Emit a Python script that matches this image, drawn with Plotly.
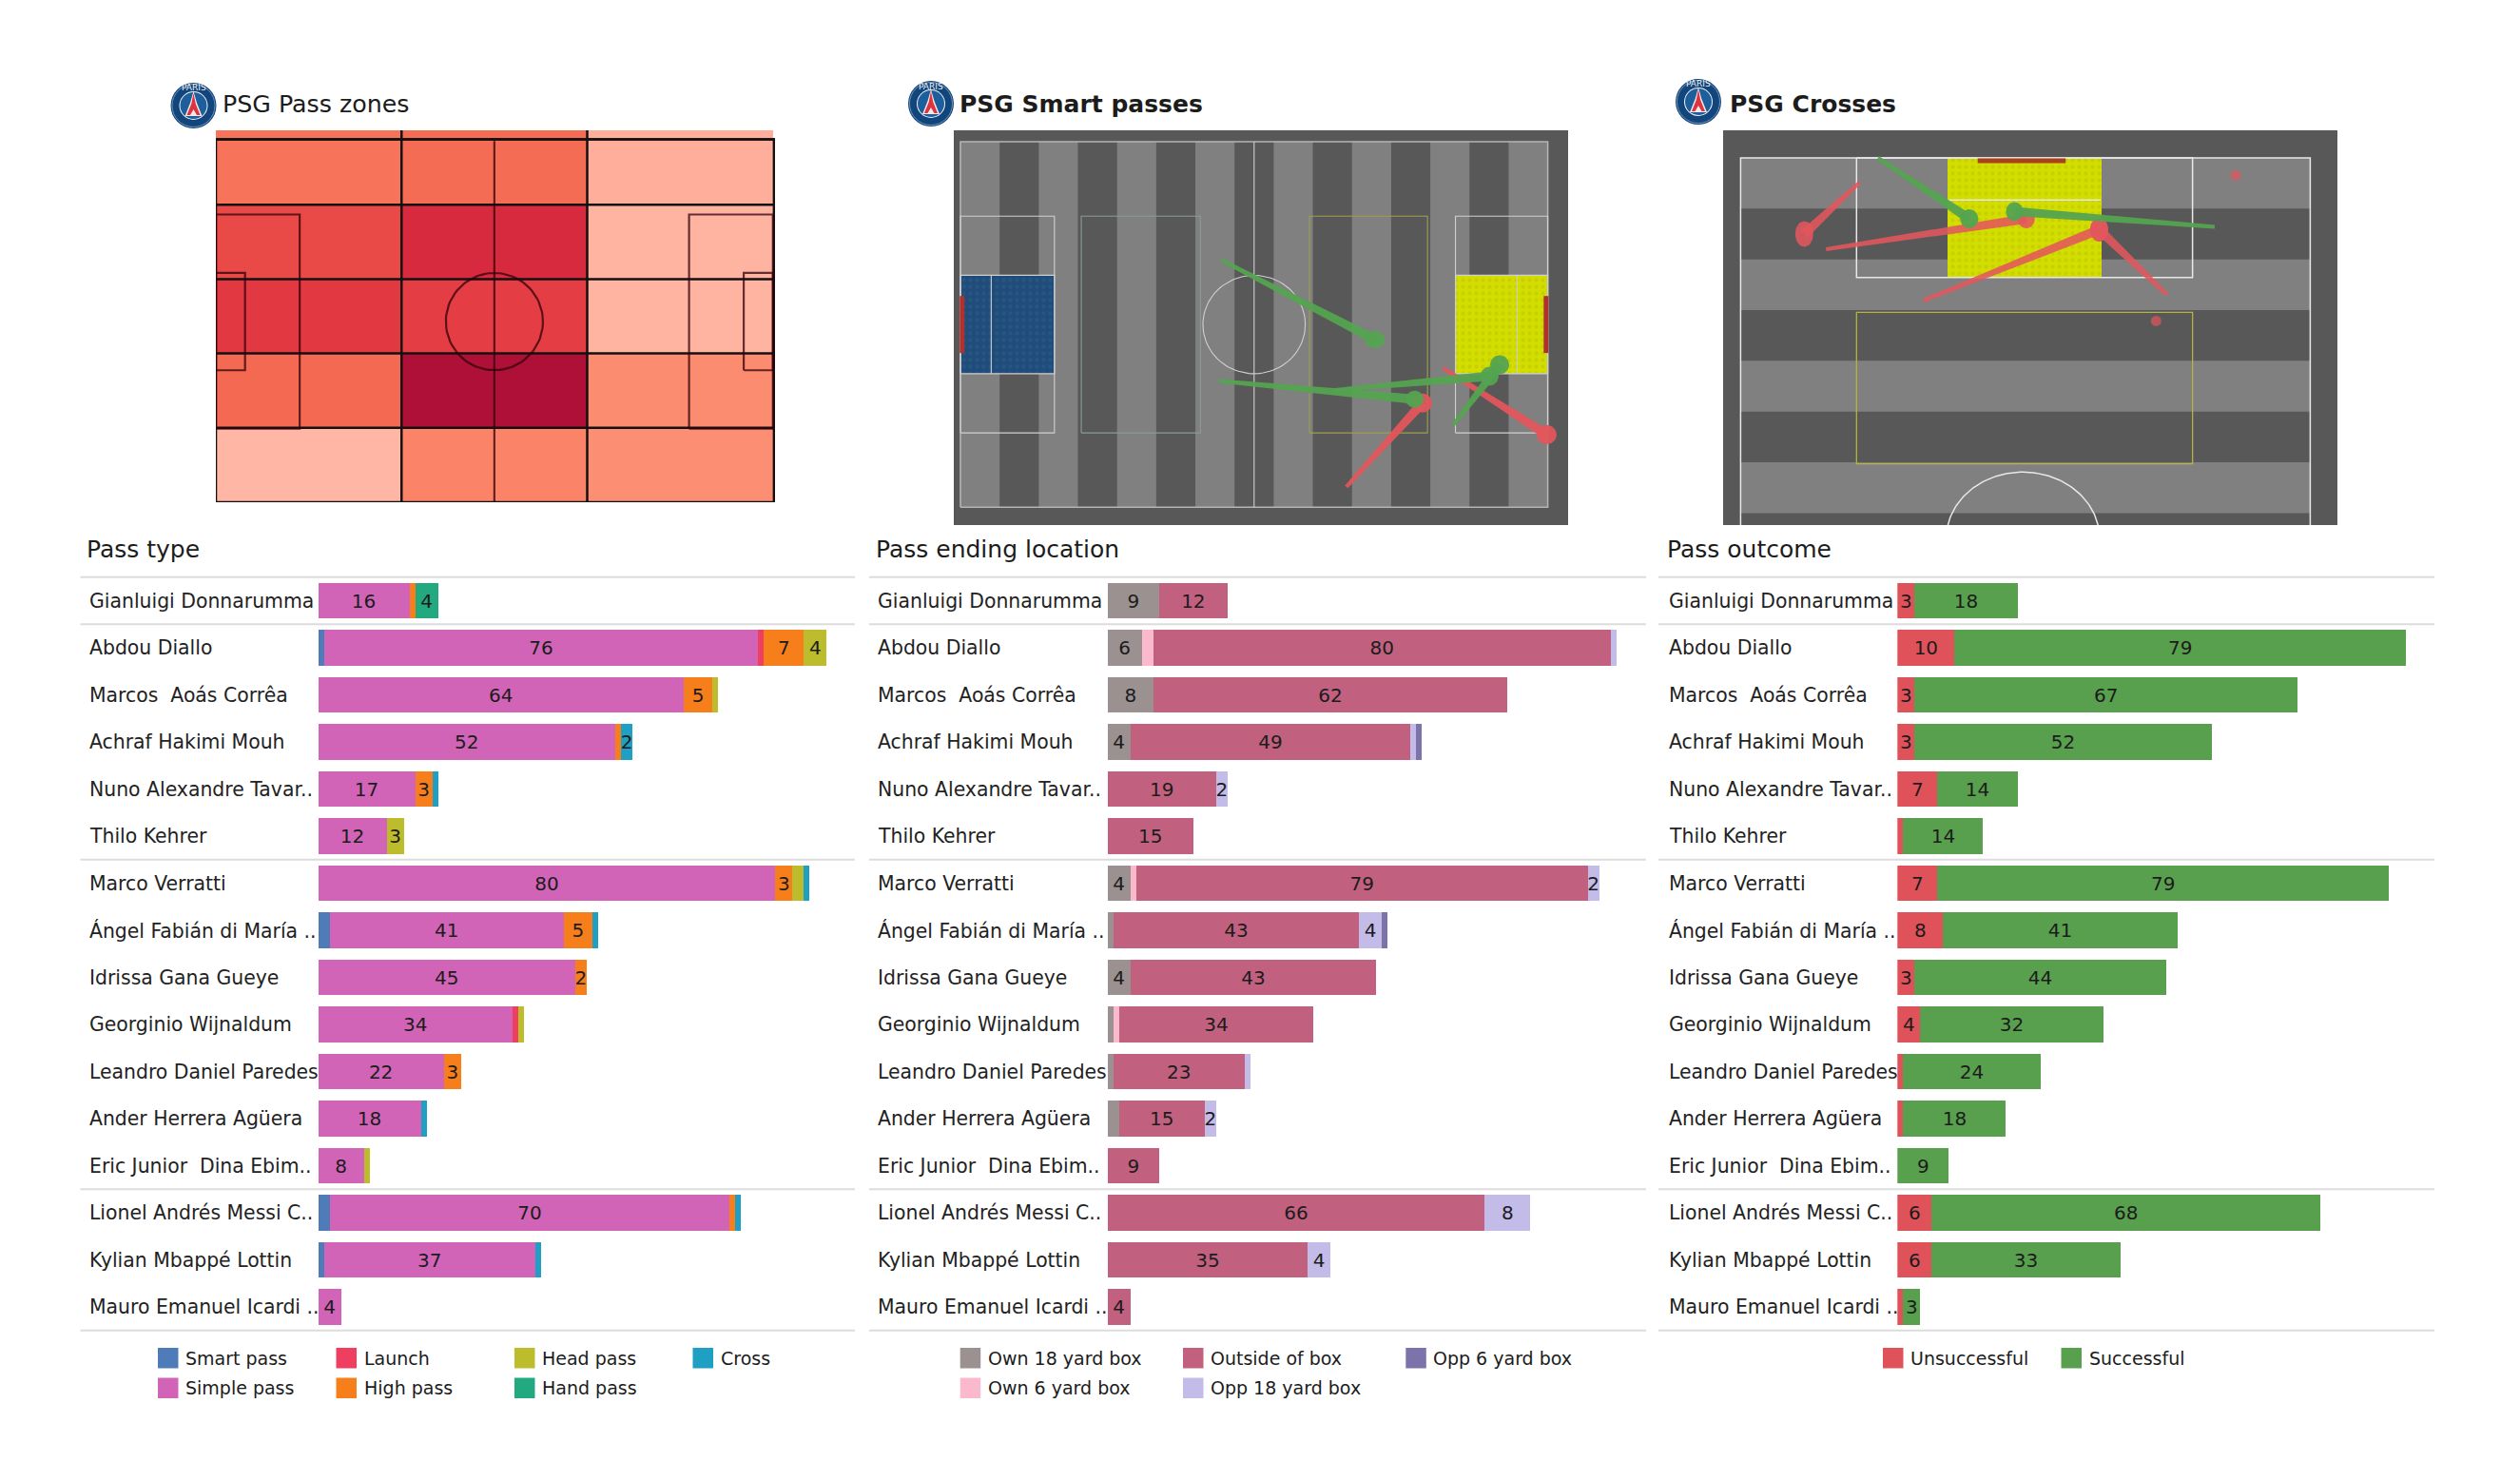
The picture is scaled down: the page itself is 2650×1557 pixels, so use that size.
import math
import plotly.graph_objects as go

W, H = 2650, 1557
FONT = "DejaVu Sans"

# ---------- bar data ----------
players = ["Gianluigi Donnarumma", "Abdou Diallo", "Marcos \u00a0Aoás Corrêa", "Achraf Hakimi Mouh",
           "Nuno Alexandre Tavar..", "Thilo Kehrer", "Marco Verratti", "Ángel Fabián di María ..",
           "Idrissa Gana Gueye", "Georginio Wijnaldum", "Leandro Daniel Paredes", "Ander Herrera Agüera",
           "Eric Junior \u00a0Dina Ebim..", "Lionel Andrés Messi C..", "Kylian Mbappé Lottin", "Mauro Emanuel Icardi .."]

smart_pass = [0, 1, 0, 0, 0, 0, 0, 2, 0, 0, 0, 0, 0, 2, 1, 0]
simple_pass = [16, 76, 64, 52, 17, 12, 80, 41, 45, 34, 22, 18, 8, 70, 37, 4]
launch = [0, 1, 0, 0, 0, 0, 0, 0, 0, 1, 0, 0, 0, 0, 0, 0]
high_pass = [1, 7, 5, 1, 3, 0, 3, 5, 2, 0, 3, 0, 0, 1, 0, 0]
head_pass = [0, 4, 1, 0, 0, 3, 2, 0, 0, 1, 0, 0, 1, 0, 0, 0]
hand_pass = [4, 0, 0, 0, 0, 0, 0, 0, 0, 0, 0, 0, 0, 0, 0, 0]
cross = [0, 0, 0, 2, 1, 0, 1, 1, 0, 0, 0, 1, 0, 1, 1, 0]

own_18 = [9, 6, 8, 4, 0, 0, 4, 1, 4, 1, 1, 2, 0, 0, 0, 0]
own_6 = [0, 2, 0, 0, 0, 0, 1, 0, 0, 1, 0, 0, 0, 0, 0, 0]
outside_box = [12, 80, 62, 49, 19, 15, 79, 43, 43, 34, 23, 15, 9, 66, 35, 4]
opp_18 = [0, 1, 0, 1, 2, 0, 2, 4, 0, 0, 1, 2, 0, 8, 4, 0]
opp_6 = [0, 0, 0, 1, 0, 0, 0, 1, 0, 0, 0, 0, 0, 0, 0, 0]

unsuccessful = [3, 10, 3, 3, 7, 1, 7, 8, 3, 4, 1, 1, 0, 6, 6, 1]
successful = [18, 79, 67, 52, 14, 14, 79, 41, 44, 32, 24, 18, 9, 68, 33, 3]

# name, values, colour, smallest value that gets a printed label
type_series = [("Smart pass", smart_pass, "#4f7cb9", 3), ("Simple pass", simple_pass, "#d264b8", 2),
               ("Launch", launch, "#ee3f60", 2), ("High pass", high_pass, "#f77f1b", 2),
               ("Head pass", head_pass, "#bcbc2c", 3), ("Hand pass", hand_pass, "#22a97f", 2),
               ("Cross", cross, "#1f9fc4", 2)]
loc_series = [("Own 18 yard box", own_18, "#9b9191", 3), ("Own 6 yard box", own_6, "#fbb9cd", 3),
              ("Outside of box", outside_box, "#c26080", 2), ("Opp 18 yard box", opp_18, "#c3bbe8", 2),
              ("Opp 6 yard box", opp_6, "#7b73a9", 2)]
out_series = [("Unsuccessful", unsuccessful, "#e05259", 2), ("Successful", successful, "#58a04e", 2)]

separators_after = [-0.5, 0.5, 5.5, 12.5, 15.5]

# ---------- pitch data ----------
zone_x = [0, 35, 70, 105]
zone_y = [0, 14, 28, 42, 56, 70]
zone_values = [[2, 29, 23], [44, 100, 24], [68, 64, 3], [58, 80, 3], [38, 42, 6]]

# start x, start y, end x, end y, end-dot width, end-dot height
smart_green = [(46.6, 46.0, 74.1, 31.2, 21, 18), (46.2, 23.5, 81.2, 20.1, 19, 18),
               (67.0, 21.8, 94.6, 24.4, 19, 20), (88.1, 15.3, 96.4, 26.5, 20, 20)]
smart_red = [(69.0, 3.8, 82.6, 19.4, 20, 20), (86.3, 25.9, 104.8, 13.5, 21, 20)]

cross_green = [(16.4, 0.0, 27.3, 8.4, 19, 20), (56.6, 9.5, 32.7, 7.4, 18, 20)]
cross_red = [(10.2, 12.6, 34.1, 8.4, 18, 20), (21.8, 19.7, 42.8, 9.9, 19, 25),
             (50.9, 18.9, 42.8, 9.9, 19, 25), (14.2, 3.4, 7.6, 10.5, 19, 27)]
cross_red_dots = [(59.1, 2.4, 11), (49.6, 22.5, 11)]


def X(px):
    return px / W


def Y(py):
    return 1 - py / H


fig = go.Figure()
shapes, annots = [], []
layout_axes = {}
PAD = 2.5  # annotation box padding in front of the glyphs


def set_axes(idx, x0, x1, y0, y1, xr, yr):
    layout_axes[f"xaxis{idx}"] = dict(domain=[X(x0), X(x1)], range=xr, visible=False, anchor=f"y{idx}",
                                      fixedrange=True)
    layout_axes[f"yaxis{idx}"] = dict(domain=[Y(y1), Y(y0)], range=yr, visible=False, anchor=f"x{idx}",
                                      fixedrange=True)


def text(px, py, s, size, color="#1c1c1c", anchor="left"):
    annots.append(dict(xref="paper", yref="paper", x=X(px - PAD), y=Y(py), text=s, showarrow=False,
                       xanchor=anchor, yanchor="middle", align="left",
                       font=dict(family=FONT, size=size, color=color)))


def rect_path(boxes):
    xs, ys = [], []
    for x0, y0, x1, y1 in boxes:
        xs += [x0, x1, x1, x0, x0, None]
        ys += [y0, y0, y1, y1, y0, None]
    return xs, ys


def add_lines(idx, xs, ys, color, width):
    fig.add_trace(go.Scatter(x=xs, y=ys, mode="lines", xaxis=f"x{idx}", yaxis=f"y{idx}",
                             line=dict(color=color, width=width), hoverinfo="skip", showlegend=False))


def circle_xy(cx, cy, r, a0=0, a1=360, n=90):
    ang = [math.radians(a0 + (a1 - a0) * i / n) for i in range(n + 1)]
    return [cx + r * math.cos(a) for a in ang], [cy + r * math.sin(a) for a in ang]


def add_pass(idx, p, color, sx, sy):
    x0, y0, x1, y1, dw, dh = p
    dx, dy = (x1 - x0) * sx, (y1 - y0) * sy
    ln = math.hypot(dx, dy)
    nx, ny = -dy / ln, dx / ln
    w0, w1 = 2.0, 5.0
    xs = [x0 + nx * w0 / sx, x1 + nx * w1 / sx, x1 - nx * w1 / sx, x0 - nx * w0 / sx, x0 + nx * w0 / sx]
    ys = [y0 + ny * w0 / sy, y1 + ny * w1 / sy, y1 - ny * w1 / sy, y0 - ny * w0 / sy, y0 + ny * w0 / sy]
    fig.add_trace(go.Scatter(x=xs, y=ys, mode="lines", fill="toself", fillcolor=color, line=dict(width=0),
                             xaxis=f"x{idx}", yaxis=f"y{idx}", hoverinfo="skip", showlegend=False))
    ang = [2 * math.pi * i / 48 for i in range(49)]
    ex = [x1 + dw / 2 / sx * math.cos(a) for a in ang]
    ey = [y1 + dh / 2 / sy * math.sin(a) for a in ang]
    fig.add_trace(go.Scatter(x=ex, y=ey, mode="lines", fill="toself", fillcolor=color, line=dict(width=0),
                             xaxis=f"x{idx}", yaxis=f"y{idx}", hoverinfo="skip", showlegend=False))


def add_patch(idx, xc, yc, length, span, orient, bg, fg):
    kw = dict(xaxis=f"x{idx}", yaxis=f"y{idx}", hoverinfo="skip", showlegend=False,
              marker=dict(color=bg, line=dict(width=0), pattern=dict(shape=".", fgcolor=fg, bgcolor=bg, size=7, solidity=0.3)))
    if orient == "h":
        fig.add_trace(go.Bar(x=[length], y=[yc], base=[xc], width=[span], orientation="h", **kw))
    else:
        fig.add_trace(go.Bar(x=[xc], y=[length], base=[yc], width=[span], orientation="v", **kw))


# ---------- pass zones ----------
set_axes(1, 227, 815, 137, 528, [0, 105.4], [0, 70])
fig.add_trace(go.Heatmap(x=zone_x, y=zone_y, z=zone_values, zmin=0, zmax=100, showscale=False, hoverinfo="skip",
                         xaxis="x1", yaxis="y1",
                         colorscale=[[0, "#ffbaa9"], [0.25, "#fc8a6e"], [0.45, "#f4674f"], [0.65, "#e33b43"],
                                     [0.8, "#d72a3e"], [1, "#ae1038"]]))
gx, gy = [], []
for v in [35, 70]:
    gx += [v, v, None]; gy += [0, 70, None]
for v in [14, 28, 42, 56, 68.3]:
    gx += [0, 105.4, None]; gy += [v, v, None]
add_lines(1, gx, gy, "#141010", 2.5)
mx, my = rect_path([(0, 0, 105.2, 68.3)])
add_lines(1, mx, my, "#141010", 2.5)
mx, my = rect_path([(0, 13.84, 15.8, 54.16), (89.2, 13.84, 105, 54.16), (0, 24.84, 5.5, 43.16), (99.5, 24.84, 105, 43.16)])
mx += [52.5, 52.5, None]; my += [0, 68, None]
cx, cy = circle_xy(52.5, 34, 9.15)
add_lines(1, mx + cx, my + cy, "rgba(50,0,10,0.75)", 2.2)


# ---------- shared helpers for the two dark pitches ----------
def pitch_bg(idx, xr, yr, stripes, vertical):
    shapes.append(dict(type="rect", xref=f"x{idx}", yref=f"y{idx}", x0=xr[0], x1=xr[1], y0=yr[0], y1=yr[1],
                       fillcolor="#585858", line=dict(width=0), layer="below"))
    for a, b, lo, hi in stripes:
        if vertical:
            shapes.append(dict(type="rect", xref=f"x{idx}", yref=f"y{idx}", x0=a, x1=b, y0=lo, y1=hi,
                               fillcolor="#808080", line=dict(width=0), layer="below"))
        else:
            shapes.append(dict(type="rect", xref=f"x{idx}", yref=f"y{idx}", x0=lo, x1=hi, y0=a, y1=b,
                               fillcolor="#808080", line=dict(width=0), layer="below"))


# ---------- smart passes ----------
sx2, sy2 = 5.88, 5.65
set_axes(2, 1003, 1649, 137, 552, [-7 / sx2, 105 + 21.4 / sx2], [-18.7 / sy2, 68 + 12 / sy2])
pitch_bg(2, [-2, 110], [-4, 72], [(7 * i, 7 * (i + 1), 0, 68) for i in range(0, 15, 2)], True)
add_patch(2, 0, 34, 16.8, 18.32, "h", "#204c7a", "#2d5d8c")
add_patch(2, 88.5, 34, 16.5, 18.32, "h", "#d2dd00", "#c2c400")
mx, my = rect_path([(0, 0, 105, 68)])
add_lines(2, mx, my, "#b4b4b4", 1.6)
mx, my = rect_path([(0, 13.84, 16.8, 54.16), (88.5, 13.84, 105, 54.16), (0, 24.84, 16.8, 43.16), (88.5, 24.84, 105, 43.16)])
mx += [52.5, 52.5, None, 5.5, 5.5, None, 99.5, 99.5, None]
my += [0, 68, None, 24.84, 43.16, None, 24.84, 43.16, None]
cx, cy = circle_xy(52.5, 34, 9.15)
add_lines(2, mx + cx, my + cy, "#d0d0d0", 1.1)
mx, my = rect_path([(21.6, 13.84, 42.9, 54.16)])
add_lines(2, mx, my, "#8a9b92", 1.1)
mx, my = rect_path([(62.4, 13.84, 83.5, 54.16)])
add_lines(2, mx, my, "#9e9e4e", 1.1)
add_lines(2, [0.3, 0.3, None, 104.7, 104.7], [28.7, 39.3, None, 28.7, 39.3], "#b03030", 5)
for p in smart_red:
    add_pass(2, p, "rgba(226,86,92,0.95)", sx2, sy2)
for p in smart_green:
    add_pass(2, p, "rgba(84,163,80,0.95)", sx2, sy2)

# ---------- crosses ----------
sx3, sy3 = 8.81, 7.62
set_axes(3, 1812, 2458, 137, 552, [-18.4 / sx3, 68 + 28.6 / sx3], [(552 - 166) / sy3, -29 / sy3])
pitch_bg(3, [-3, 72], [-5, 52], [(7 * i, 7 * (i + 1), 0, 68) for i in range(0, 8, 2)], False)
add_patch(3, 33.9, 0, 16.5, 18.32, "v", "#d2dd00", "#c2c400")
mx, my = rect_path([(13.84, 0, 53.95, 16.5)])
mx += [0, 0, 68, 68, None, 24.84, 43.0, None]
my += [60, 0, 0, 60, None, 5.8, 5.8, None]
add_lines(3, mx, my, "#e8e8e8", 1.5)
cx, cy = circle_xy(33.7, 52.5, 9.15, 180, 360)
add_lines(3, cx, cy, "#e8e8e8", 1.5)
mx, my = rect_path([(13.84, 21.3, 53.95, 42.2)])
add_lines(3, mx, my, "#b4b43e", 1.3)
add_lines(3, [28.3, 38.8], [0.4, 0.4], "#a8401c", 5)
for p in cross_red:
    add_pass(3, p, "rgba(226,86,92,0.88)", sx3, sy3)
for p in cross_green:
    add_pass(3, p, "rgba(84,163,80,0.95)", sx3, sy3)
fig.add_trace(go.Scatter(x=[d[0] for d in cross_red_dots], y=[d[1] for d in cross_red_dots], mode="markers",
                         marker=dict(size=[d[2] for d in cross_red_dots], color="#e2565c", line=dict(width=0)),
                         xaxis="x3", yaxis="y3", hoverinfo="skip", showlegend=False))


# ---------- logos and titles ----------
def logo(cx, cy):
    def circ(r, fill, line=None, lw=0):
        shapes.append(dict(type="circle", xref="paper", yref="paper", x0=X(cx - r), x1=X(cx + r),
                           y0=Y(cy + r), y1=Y(cy - r), fillcolor=fill,
                           line=dict(color=line or fill, width=lw)))
    def poly(pts, fill):
        path = "M" + " L".join(f"{X(cx + a):.5f},{Y(cy + b):.5f}" for a, b in pts) + " Z"
        shapes.append(dict(type="path", xref="paper", yref="paper", path=path, fillcolor=fill, line=dict(width=0)))
    circ(24, "#12457b")
    circ(22.5, "#12457b", "#6f93b8", 1)
    circ(15, "#f1f4f8")
    circ(14, "#1d5f9c")
    poly([(0, -15), (3.4, -3), (9, 11), (-9, 11), (-3.4, -3)], "#f4e9ea")
    poly([(0, -13), (2.2, -2), (7, 10), (3.5, 10), (0, 4), (-3.5, 10), (-7, 10), (-2.2, -2)], "#dc3540")
    annots.append(dict(xref="paper", yref="paper", x=X(cx), y=Y(cy - 18.5), text="PARIS", showarrow=False,
                       font=dict(family=FONT, size=9, color="#f2f2f2"), xanchor="center", yanchor="middle"))


logo(203.5, 111)
logo(979, 109)
logo(1786, 107)
text(234, 109, "PSG Pass zones", 25.3)
text(1009, 109, "<b>PSG Smart passes</b>", 25)
text(1819, 109, "<b>PSG Crosses</b>", 25)

# ---------- bars ----------
panels = [
    dict(idx=4, x0=334.5, x1=899, left=84.5, name_x=94, title="Pass type", title_x=91.5, series=type_series),
    dict(idx=5, x0=1164.7, x1=1731, left=914, name_x=923.5, title="Pass ending location", title_x=921, series=loc_series),
    dict(idx=6, x0=1995.3, x1=2560, left=1744, name_x=1755, title="Pass outcome", title_x=1753, series=out_series),
]
PX_PER_UNIT = 6.01
for pn in panels:
    i = pn["idx"]
    xmax = (pn["x1"] - pn["x0"]) / PX_PER_UNIT
    layout_axes[f"xaxis{i}"] = dict(domain=[X(pn["x0"]), X(pn["x1"])], range=[0, xmax], visible=False,
                                    anchor=f"y{i}", fixedrange=True)
    layout_axes[f"yaxis{i}"] = dict(domain=[Y(1398.75), Y(606.75)], type="category", categoryorder="array",
                                    categoryarray=players, range=[15.5, -0.5], visible=False,
                                    anchor=f"x{i}", fixedrange=True)
    for name, vals, color, min_label in pn["series"]:
        fig.add_trace(go.Bar(x=vals, y=players, orientation="h", name=name, width=0.75,
                             marker=dict(color=color, line=dict(width=0)),
                             text=[str(v) if v >= min_label else "" for v in vals], textposition="inside",
                             insidetextanchor="middle", textangle=0, constraintext="none",
                             insidetextfont=dict(family=FONT, size=20, color="#1c1c1c"),
                             cliponaxis=False, xaxis=f"x{i}", yaxis=f"y{i}", showlegend=False,
                             hoverinfo="skip"))
    for s in separators_after:
        py = 606.75 + (s + 0.5) * 49.5
        shapes.append(dict(type="line", xref="paper", yref="paper", x0=X(pn["left"]), x1=X(pn["x1"]),
                           y0=Y(py), y1=Y(py), line=dict(color="#dcdcdc", width=2), layer="below"))
    for r, nm in enumerate(players):
        annots.append(dict(xref="paper", yref=f"y{i}", x=X(pn["name_x"] - PAD), y=nm, text=nm, showarrow=False,
                           xanchor="left", yanchor="middle", font=dict(family=FONT, size=20.4, color="#222222")))
    text(pn["title_x"], 577, pn["title"], 25)


def legend(items, x_start, x_step, rows=2):
    for k, (name, _, color, _m) in enumerate(items):
        col, row = k // rows, k % rows
        x0 = x_start + col * x_step
        y0 = 1417 + row * 31.5
        shapes.append(dict(type="rect", xref="paper", yref="paper", x0=X(x0), x1=X(x0 + 21.5), y0=Y(y0 + 21.5), y1=Y(y0),
                           fillcolor=color, line=dict(width=0)))
        text(x0 + 29.5, y0 + 10.5, name, 19)


legend(type_series, 166, 187.5)
legend(loc_series, 1009.7, 234.3)
legend(out_series, 1980, 187.5, rows=1)

fig.update_layout(width=W, height=H, margin=dict(l=0, r=0, t=0, b=0), paper_bgcolor="white", plot_bgcolor="white",
                  barmode="stack", bargap=0.25, showlegend=False, shapes=shapes, annotations=annots,
                  font=dict(family=FONT), **layout_axes)
fig.write_html("out.html", config={"displayModeBar": False}, post_script="document.body.style.margin='0';")
